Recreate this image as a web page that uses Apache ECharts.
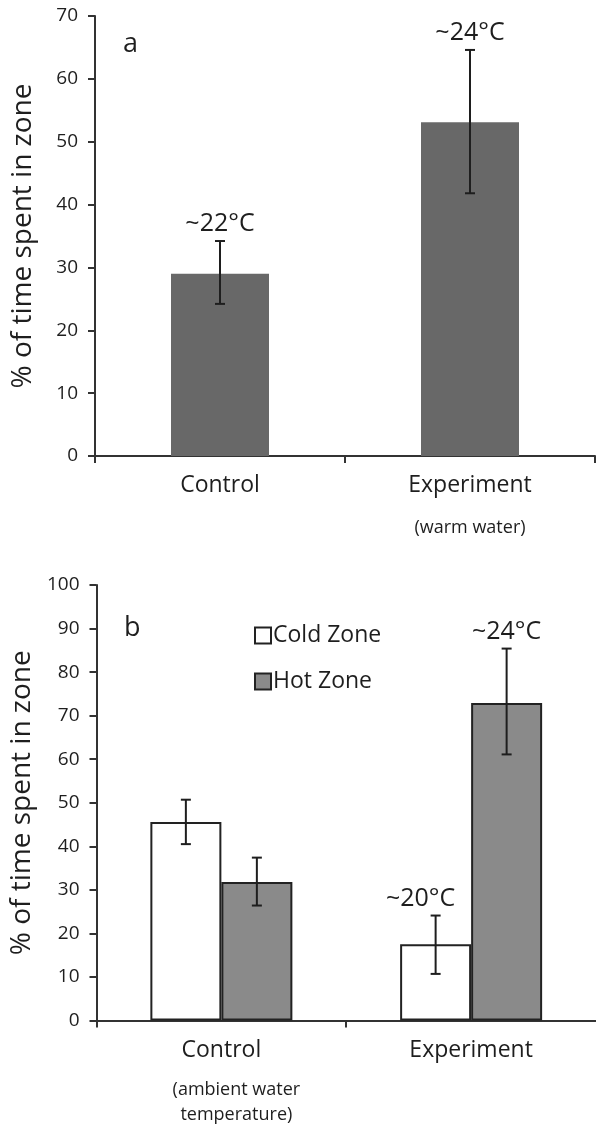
<!DOCTYPE html>
<html lang="en">
<head>
    <meta charset="UTF-8">
    <title>time spent in zone</title>
    <script src="https://cdn.jsdelivr.net/npm/echarts@6/dist/echarts.min.js"></script>
    <style>
        html, body {
            margin: 0;
            padding: 0;
            background: #fff;
        }
        #app {
            width: 596px;
            height: 1124px;
        }
    </style>
</head>
<body>
<div id="app"></div>
<script>
    // panel a
    var categoriesA = ['Control', 'Experiment'];
    var subLabelsA = ['', '(warm water)'];
    var valuesA = [29.0, 53.1];
    var lowA = [24.2, 41.8];
    var highA = [34.2, 64.6];
    var tempA = ['~22°C', '~24°C'];
    var yMaxA = 70;

    // panel b
    var categoriesB = ['Control', 'Experiment'];
    var subLabelsB = ['(ambient water\ntemperature)', ''];
    var coldB = [45.6, 17.5];
    var coldLowB = [40.5, 10.7];
    var coldHighB = [50.7, 24.1];
    var coldTempB = ['', '~20°C'];
    var hotB = [31.8, 72.9];
    var hotLowB = [26.4, 61.1];
    var hotHighB = [37.4, 85.4];
    var hotTempB = ['', '~24°C'];
    var yMaxB = 100;
    var yStep = 10;

    var font = '"Open Sans", sans-serif';
    var ink = '#1e1e1e';
    var barWidthB = 71;

    function errData(low, high) {
        var out = [];
        for (var i = 0; i < low.length; i++) {
            out.push([i, low[i], high[i]]);
        }
        return out;
    }

    function errorRender(labels, offset, labelShift) {
        return function (params, api) {
            var c = api.value(0);
            var lo = api.coord([c, api.value(1)]);
            var hi = api.coord([c, api.value(2)]);
            var x = lo[0] + offset;
            var st = {stroke: '#1e1e1e', lineWidth: 2};
            var children = [
                {type: 'line', shape: {x1: x, y1: hi[1], x2: x, y2: lo[1]}, style: st},
                {type: 'line', shape: {x1: x - 5, y1: hi[1], x2: x + 5, y2: hi[1]}, style: st},
                {type: 'line', shape: {x1: x - 5, y1: lo[1], x2: x + 5, y2: lo[1]}, style: st}
            ];
            var t = labels[params.dataIndex];
            if (t) {
                children.push({
                    type: 'text',
                    style: {
                        text: t, x: x + labelShift, y: hi[1] - 17,
                        align: 'center', verticalAlign: 'middle',
                        font: '25px ' + font, fill: ink
                    }
                });
            }
            return {type: 'group', children: children};
        };
    }

    function catFormatter(subs) {
        return function (v, i) {
            var s = '{m|' + v + '}';
            if (subs[i]) {
                var lines = subs[i].split('\n');
                for (var k = 0; k < lines.length; k++) {
                    s += '\n{s|' + lines[k] + '}';
                }
            }
            return s;
        };
    }

    function xAxisFor(gridIndex, cats, subs, mainLh, subLh, margin, subPad) {
        return {
            gridIndex: gridIndex,
            type: 'category',
            data: cats,
            axisLine: {lineStyle: {color: '#333', width: 2}},
            axisTick: {show: true, length: 7, lineStyle: {color: '#333', width: 2}},
            axisLabel: {
                margin: margin,
                formatter: catFormatter(subs),
                rich: {
                    m: {fontFamily: font, fontSize: 23, color: ink, lineHeight: mainLh},
                    s: {fontFamily: font, fontSize: 18, color: ink, lineHeight: subLh, padding: [0, 0, 0, subPad]}
                }
            }
        };
    }

    function yAxisFor(gridIndex, max) {
        return {
            gridIndex: gridIndex,
            type: 'value',
            min: 0,
            max: max,
            interval: yStep,
            name: '% of time spent in zone',
            nameLocation: 'middle',
            nameGap: 58,
            nameTextStyle: {fontFamily: font, fontSize: 28, color: ink},
            splitLine: {show: false},
            axisLine: {show: true, lineStyle: {color: '#333', width: 2}},
            axisTick: {show: true, length: 7, lineStyle: {color: '#333', width: 2}},
            axisLabel: {margin: 17, fontFamily: font, fontSize: 19, color: ink}
        };
    }

    var option = {
        animation: false,
        backgroundColor: '#fff',
        title: [
            {text: 'a', left: 123, top: 31, padding: 0, textStyle: {fontFamily: font, fontSize: 27, fontWeight: 'normal', color: ink}},
            {text: 'b', left: 124, top: 615, padding: 0, textStyle: {fontFamily: font, fontSize: 27, fontWeight: 'normal', color: ink}}
        ],
        legend: {
            data: ['Cold Zone', 'Hot Zone'],
            orient: 'vertical',
            left: 249,
            top: 619,
            icon: 'rect',
            itemWidth: 16,
            itemHeight: 16,
            itemGap: 23,
            textStyle: {fontFamily: font, fontSize: 23, color: ink, padding: [0, 0, 0, -3]}
        },
        grid: [
            {left: 95, right: 1, top: 16, height: 440},
            {left: 96, right: 0, top: 585, height: 436}
        ],
        xAxis: [
            xAxisFor(0, categoriesA, subLabelsA, 58, 28, 0, 0),
            xAxisFor(1, categoriesB, subLabelsB, 55, 25, 2, 30)
        ],
        yAxis: [
            yAxisFor(0, yMaxA),
            yAxisFor(1, yMaxB)
        ],
        series: [
            {
                type: 'bar',
                xAxisIndex: 0,
                yAxisIndex: 0,
                data: valuesA,
                barWidth: 98,
                itemStyle: {color: '#686868'}
            },
            {
                type: 'custom',
                xAxisIndex: 0,
                yAxisIndex: 0,
                renderItem: errorRender(tempA, 0, 0),
                data: errData(lowA, highA),
                encode: {x: 0, y: [1, 2]},
                z: 10
            },
            {
                name: 'Cold Zone',
                type: 'bar',
                xAxisIndex: 1,
                yAxisIndex: 1,
                data: coldB,
                barWidth: barWidthB,
                barGap: '0%',
                itemStyle: {color: '#ffffff', borderColor: '#222', borderWidth: 2}
            },
            {
                name: 'Hot Zone',
                type: 'bar',
                xAxisIndex: 1,
                yAxisIndex: 1,
                data: hotB,
                barWidth: barWidthB,
                barGap: '0%',
                itemStyle: {color: '#8a8a8a', borderColor: '#222', borderWidth: 2}
            },
            {
                type: 'custom',
                xAxisIndex: 1,
                yAxisIndex: 1,
                renderItem: errorRender(coldTempB, -barWidthB / 2, -15),
                data: errData(coldLowB, coldHighB),
                encode: {x: 0, y: [1, 2]},
                z: 10
            },
            {
                type: 'custom',
                xAxisIndex: 1,
                yAxisIndex: 1,
                renderItem: errorRender(hotTempB, barWidthB / 2, 0),
                data: errData(hotLowB, hotHighB),
                encode: {x: 0, y: [1, 2]},
                z: 10
            }
        ]
    };

    var myChart = echarts.init(document.getElementById('app'));
    myChart.setOption(option);
</script>
</body>
</html>
